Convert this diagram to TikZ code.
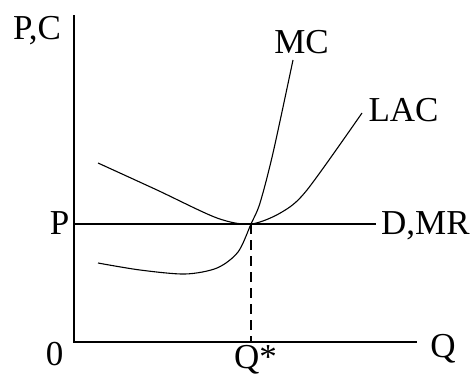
\documentclass[tikz,border=0pt]{standalone}
\usepackage{fontspec}
\setmainfont{Liberation Serif}
\begin{document}
\begin{tikzpicture}[x=1pt,y=1pt,
  lbl/.style={anchor=base,inner sep=0pt,font=\fontsize{35}{40}\selectfont},
  axis/.style={line width=1.6pt},
  curve/.style={line width=1.1pt}]
\useasboundingbox (0,0) rectangle (470,376);
\coordinate (O) at (74,34);
\coordinate (ytop) at (74,361);
\coordinate (xend) at (417,34);
\coordinate (E) at (251,152);
\coordinate (Pa) at (74,152);
\coordinate (Pb) at (376,152);
\coordinate (Qs) at (251,34);
\draw[axis] (ytop) -- (O) -- (xend);
\draw[axis] (Pa) -- (Pb);
\draw[curve,dash pattern=on 10pt off 6pt] (E) -- (Qs);
\draw[curve] plot[smooth] coordinates {(98,213) (157,186) (217,158) (E) (282,164) (307,186) (362,263)};
\draw[curve] plot[smooth] coordinates {(98,113) (140,106) (185,102) (217,108) (238,124) (E) (260,173) (273,223) (293,316)};
\node[lbl] (pc) at (37,337) {P,C};
\node[lbl] (mc) at (301.5,323) {MC};
\node[lbl] (lac) at (403.5,255) {LAC};
\node[lbl] (p) at (59.5,142) {P};
\node[lbl,anchor=base west] (dmr) at (381,142) {D,MR};
\node[lbl] (zero) at (54.5,11) {0};
\node[lbl] (q) at (443,19) {Q};
\node[lbl] (qstar) at (255.5,8) {Q*};
\end{tikzpicture}
\end{document}
